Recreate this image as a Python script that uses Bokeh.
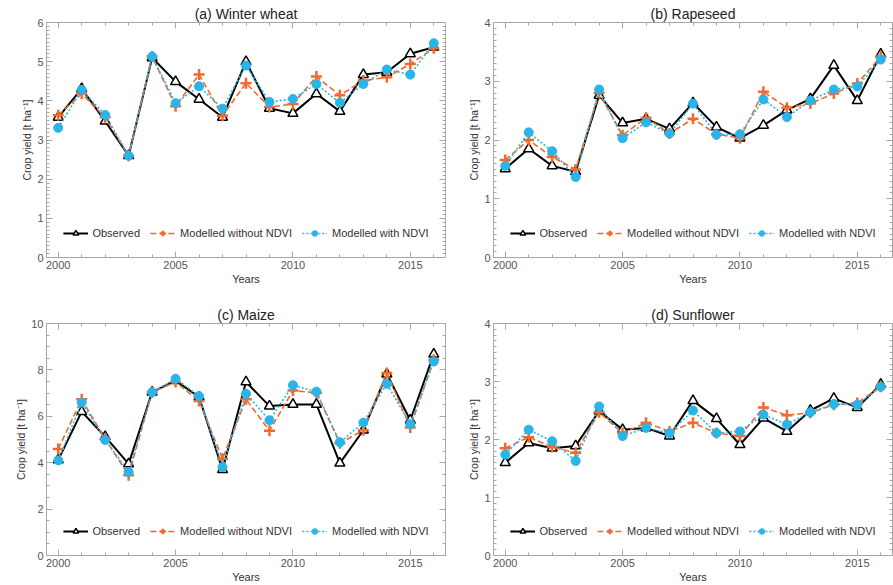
from bokeh.plotting import figure
from bokeh.models import (LinearAxis, Range1d, FixedTicker, Legend, LegendItem,
                          CustomJSTickFormatter)
from bokeh.layouts import column, row
from bokeh.embed import file_html
from bokeh.resources import INLINE

# ---- data: crop yields [t/ha], 2000-2016 ----
years = list(range(2000, 2017))
year_ticks = [2000, 2005, 2010, 2015]

wheat_obs = [3.58, 4.31, 3.48, 2.60, 5.10, 4.49, 4.04, 3.58, 5.00, 3.81, 3.68, 4.18, 3.73, 4.67, 4.73, 5.20, 5.37]
wheat_no_ndvi = [3.63, 4.18, 3.58, 2.60, 5.13, 3.86, 4.67, 3.62, 4.45, 3.84, 3.92, 4.62, 4.14, 4.52, 4.60, 4.94, 5.34]
wheat_ndvi = [3.31, 4.28, 3.64, 2.60, 5.13, 3.94, 4.37, 3.80, 4.90, 3.97, 4.05, 4.43, 3.95, 4.43, 4.80, 4.67, 5.47]

rape_obs = [1.51, 1.85, 1.56, 1.46, 2.76, 2.29, 2.36, 2.19, 2.63, 2.22, 2.03, 2.25, 2.51, 2.70, 3.27, 2.67, 3.46]
rape_no_ndvi = [1.66, 2.00, 1.71, 1.50, 2.80, 2.08, 2.38, 2.11, 2.36, 2.10, 2.03, 2.82, 2.55, 2.62, 2.79, 2.96, 3.42]
rape_ndvi = [1.56, 2.13, 1.81, 1.37, 2.86, 2.03, 2.30, 2.11, 2.62, 2.09, 2.10, 2.69, 2.39, 2.67, 2.86, 2.91, 3.37]

maize_obs = [4.12, 6.20, 5.12, 3.95, 7.04, 7.54, 6.83, 3.70, 7.48, 6.44, 6.51, 6.51, 3.98, 5.40, 7.82, 5.83, 8.68]
maize_no_ndvi = [4.59, 6.73, 5.02, 3.46, 7.04, 7.48, 6.66, 4.17, 6.73, 5.38, 7.11, 7.01, 4.84, 5.40, 7.87, 5.52, 8.44]
maize_ndvi = [4.10, 6.59, 4.98, 3.60, 7.04, 7.62, 6.87, 3.81, 6.97, 5.83, 7.34, 7.06, 4.88, 5.73, 7.40, 5.66, 8.36]

sun_obs = [1.60, 1.94, 1.85, 1.89, 2.49, 2.17, 2.20, 2.06, 2.67, 2.36, 1.91, 2.37, 2.14, 2.50, 2.71, 2.55, 2.95]
sun_no_ndvi = [1.85, 2.04, 1.87, 1.77, 2.47, 2.11, 2.29, 2.14, 2.29, 2.11, 2.06, 2.55, 2.42, 2.46, 2.60, 2.63, 2.91]
sun_ndvi = [1.74, 2.17, 1.97, 1.63, 2.57, 2.06, 2.20, 2.11, 2.50, 2.11, 2.14, 2.43, 2.26, 2.47, 2.61, 2.60, 2.91]

series_labels = ["Observed", "Modelled without NDVI", "Modelled with NDVI"]

FONT = "Liberation Sans"
ORANGE = "#f26a2b"
CYAN = "#2ab4e8"
FRAME = "#a8a8a8"
TICKTXT = "#555555"


def style_axis(ax, ticker, show_labels):
    ax.ticker = ticker
    ax.axis_line_color = None
    ax.major_tick_in = 6
    ax.major_tick_out = 0
    ax.minor_tick_in = 3
    ax.minor_tick_out = 0
    ax.major_tick_line_color = FRAME
    ax.minor_tick_line_color = FRAME
    ax.major_label_text_font = FONT
    ax.major_label_text_color = TICKTXT
    ax.axis_label_text_font = FONT
    ax.axis_label_text_font_style = "normal"
    ax.axis_label_text_color = "#333333"
    if show_labels:
        ax.major_label_text_font_size = "11px"
        ax.axis_label_text_font_size = "11px"
        ax.major_label_standoff = 3
        ax.axis_label_standoff = 1
    else:
        ax.formatter = CustomJSTickFormatter(code="return ''")
        ax.major_label_text_font_size = "1px"
        ax.major_label_standoff = 0


def panel(title, obs, no_ndvi, ndvi, ymax, ystep, n_minor, width, height,
          b_left, b_right, b_top, b_bottom):
    p = figure(width=width, height=height, output_backend="svg",
               toolbar_location=None,
               x_range=Range1d(1999.5, 2016.5), y_range=Range1d(0, ymax),
               min_border_left=b_left, min_border_right=b_right,
               min_border_top=b_top, min_border_bottom=b_bottom,
               x_axis_label="Years", y_axis_label="Crop yield [t ha\u207b\u00b9]")
    p.title.text = title
    p.title.align = "center"
    p.title.text_font = FONT
    p.title.text_font_size = "14px"
    p.title.text_font_style = "normal"
    p.title.text_color = "#222222"
    p.title.standoff = 2
    p.grid.visible = False
    p.outline_line_color = FRAME
    p.outline_line_width = 1
    p.background_fill_color = "white"
    p.border_fill_color = "white"

    yt = [i * ystep for i in range(int(round(ymax / ystep)) + 1)]
    ym = [i * ystep / n_minor for i in range(int(round(ymax / ystep)) * n_minor + 1)]
    xticker = FixedTicker(ticks=year_ticks, minor_ticks=years)
    yticker = FixedTicker(ticks=yt, minor_ticks=ym)

    style_axis(p.xaxis[0], xticker, True)
    style_axis(p.yaxis[0], yticker, True)
    p.yaxis[0].axis_label_text_font_size = "10.5px"

    # mirrored tick marks on the top and right edges of the frame
    top = LinearAxis()
    style_axis(top, FixedTicker(ticks=year_ticks, minor_ticks=years), False)
    p.add_layout(top, "above")
    right = LinearAxis()
    style_axis(right, FixedTicker(ticks=yt, minor_ticks=ym), False)
    p.add_layout(right, "right")

    # observed
    l1 = p.line(years, obs, line_color="black", line_width=2)
    m1 = p.scatter(years, obs, marker="triangle", size=10, fill_color="white",
                   line_color="black", line_width=1.5)
    # model without NDVI
    l2 = p.line(years, no_ndvi, line_color=ORANGE, line_width=1.6, line_dash="6 3")
    m2 = p.scatter(years, no_ndvi, marker="cross", size=11, line_color=ORANGE,
                   line_width=2.5)
    # model with NDVI
    l3 = p.line(years, ndvi, line_color=CYAN, line_width=1.6, line_dash="2 2")
    m3 = p.scatter(years, ndvi, marker="circle", size=9, fill_color=CYAN,
                   line_color=CYAN)

    legend = Legend(items=[LegendItem(label=series_labels[0], renderers=[l1, m1]),
                           LegendItem(label=series_labels[1], renderers=[l2, m2]),
                           LegendItem(label=series_labels[2], renderers=[l3, m3])],
                    orientation="horizontal", location="bottom_center",
                    background_fill_alpha=0, border_line_color=None,
                    label_text_font=FONT, label_text_font_size="11px",
                    label_text_color="#333333",
                    glyph_width=25, glyph_height=14, label_height=14,
                    label_standoff=5, spacing=10, padding=0, margin=17)
    p.add_layout(legend, "center")
    return p


pa = panel("(a) Winter wheat", wheat_obs, wheat_no_ndvi, wheat_ndvi, 6, 1, 10,
           446, 292, 46, 1, 22, 35)
pb = panel("(b) Rapeseed", rape_obs, rape_no_ndvi, rape_ndvi, 4, 1, 10,
           447, 292, 47, 1, 22, 35)
pc = panel("(c) Maize", maize_obs, maize_no_ndvi, maize_ndvi, 10, 2, 4,
           446, 293, 46, 1, 31, 25)
pd = panel("(d) Sunflower", sun_obs, sun_no_ndvi, sun_ndvi, 4, 1, 10,
           447, 293, 47, 1, 31, 25)

layout = column(row(pa, pb), row(pc, pd))
open("out.html", "w").write(file_html(layout, INLINE))
